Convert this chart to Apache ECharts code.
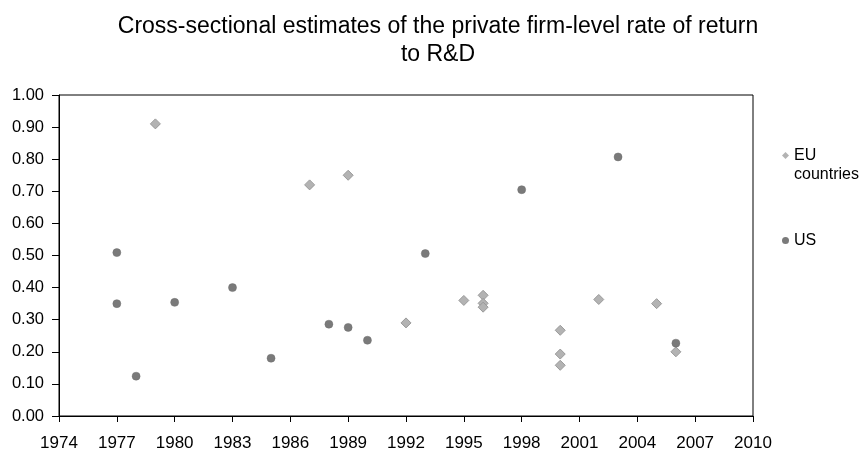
<!DOCTYPE html>
<html>
<head>
<meta charset="utf-8">
<script src="https://cdn.jsdelivr.net/npm/echarts@6/dist/echarts.min.js"></script>
<style>html,body{margin:0;padding:0;background:#fff;}#c{width:863px;height:452px;}</style>
</head>
<body>
<div id="c"></div>
<script>
var euYears = [1979, 1987, 1989, 1992, 1995, 1996, 1996, 1996, 2000, 2000, 2000, 2002, 2005, 2006];
var euValues = [0.91, 0.72, 0.75, 0.29, 0.36, 0.376, 0.351, 0.339, 0.267, 0.193, 0.158, 0.363, 0.35, 0.20];
var usYears = [1977, 1977, 1978, 1980, 1983, 1985, 1988, 1989, 1990, 1993, 1998, 2003, 2006];
var usValues = [0.509, 0.35, 0.124, 0.354, 0.40, 0.18, 0.286, 0.276, 0.236, 0.506, 0.705, 0.807, 0.227];
var seriesNames = ['EU countries', 'US'];
var titleText = 'Cross-sectional estimates of the private firm-level rate of return\nto R&D';

function pairs(xs, ys) { return xs.map(function (x, i) { return [x, ys[i]]; }); }

var FONT = 'Liberation Sans, Arial, sans-serif';
var chart = echarts.init(document.getElementById('c'));
chart.setOption({
  animation: false,
  backgroundColor: '#fff',
  title: {
    text: titleText,
    left: 438, top: 13, textAlign: 'center', padding: 0,
    textStyle: { fontFamily: FONT, fontSize: 23, fontWeight: 'normal', color: '#000', lineHeight: 28 }
  },
  legend: {
    orient: 'vertical', left: 782, top: 127, itemGap: 47, padding: 0,
    itemWidth: 7, itemHeight: 7,
    data: [
      { name: seriesNames[0], icon: 'diamond', itemStyle: { color: '#b3b3b3', borderWidth: 0 } },
      { name: seriesNames[1], icon: 'circle', itemStyle: { color: '#7a7a7a', borderWidth: 0 } }
    ],
    formatter: function (n) { return n === 'EU countries' ? ' \nEU\ncountries' : n; },
    textStyle: { fontFamily: FONT, fontSize: 16, color: '#000', lineHeight: 19 }
  },
  grid: { left: 59, right: 110, top: 95, bottom: 35, show: true, borderColor: '#000', borderWidth: 1, backgroundColor: 'transparent' },
  xAxis: {
    type: 'value', min: 1974, max: 2010, interval: 3,
    axisLine: { lineStyle: { color: '#000' } },
    axisTick: { show: true, length: 6, lineStyle: { color: '#000' } },
    axisLabel: { color: '#000', fontFamily: FONT, fontSize: 17, margin: 19, showMinLabel: true, showMaxLabel: true,
      formatter: function (v) { return String(v); } },
    splitLine: { show: false }
  },
  yAxis: {
    type: 'value', min: 0, max: 1, interval: 0.1,
    axisLine: { show: true, lineStyle: { color: '#000' } },
    axisTick: { show: true, length: 7, lineStyle: { color: '#000' } },
    axisLabel: { color: '#000', fontFamily: FONT, fontSize: 16.5, margin: 15, formatter: function (v) { return v.toFixed(2); } },
    splitLine: { show: false }
  },
  series: [
    {
      name: seriesNames[0], type: 'scatter', symbol: 'diamond', symbolSize: 10,
      data: pairs(euYears, euValues),
      itemStyle: { color: '#b3b3b3', borderColor: '#9a9a9a', borderWidth: 1, opacity: 1 }
    },
    {
      name: seriesNames[1], type: 'scatter', symbol: 'circle', symbolSize: 8,
      data: pairs(usYears, usValues),
      itemStyle: { color: '#7a7a7a', borderColor: '#6e6e6e', borderWidth: 0.5, opacity: 1 }
    }
  ]
});
</script>
</body>
</html>
